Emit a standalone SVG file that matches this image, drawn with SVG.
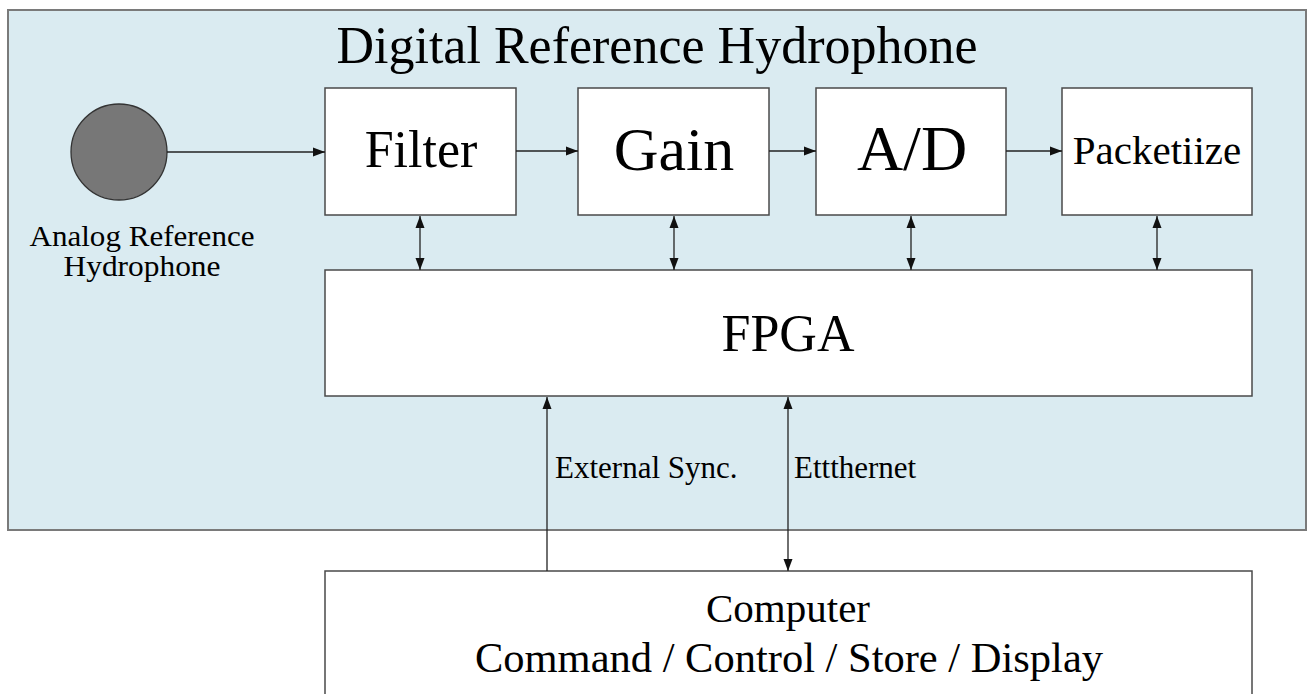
<svg xmlns="http://www.w3.org/2000/svg" width="1308" height="694" viewBox="0 0 1308 694">
<style>
.box{fill:#ffffff;stroke:#4a4a4a;stroke-width:1.5}
.t{font-family:"Liberation Serif","Times New Roman",serif;fill:#000;text-anchor:middle}
.ln{stroke:#222;stroke-width:1.3;fill:none}
</style>
<defs>
<marker id="ah" viewBox="0 0 12 10" refX="12" refY="5" markerWidth="12" markerHeight="10" markerUnits="userSpaceOnUse" orient="auto-start-reverse">
<path d="M0,0.5 L12,5 L0,9.5 Z" fill="#111"/>
</marker>
</defs>
<rect width="1308" height="694" fill="#ffffff"/>
<g id="container">
<rect x="8" y="10" width="1298" height="520" fill="#daebf1" stroke="#7a7a7a" stroke-width="2"/>
<text class="t" x="657" y="63" font-size="52">Digital Reference Hydrophone</text>
</g>
<g id="analog">
<circle cx="119" cy="152" r="48" fill="#777777" stroke="#333" stroke-width="1.3"/>
<text class="t" x="142" y="246" font-size="30" textLength="225" lengthAdjust="spacingAndGlyphs">Analog Reference</text>
<text class="t" x="142" y="276" font-size="30" textLength="157" lengthAdjust="spacingAndGlyphs">Hydrophone</text>
</g>
<g id="filter">
<rect class="box" x="325" y="88" width="191" height="127"/>
<text class="t" x="421" y="167" font-size="52">Filter</text>
</g>
<g id="gain">
<rect class="box" x="578" y="88" width="191" height="127"/>
<text class="t" x="674" y="170" font-size="62">Gain</text>
</g>
<g id="ad">
<rect class="box" x="816" y="88" width="190" height="127"/>
<text class="t" x="912" y="170" font-size="64">A/D</text>
</g>
<g id="packetize">
<rect class="box" x="1062" y="88" width="190" height="127"/>
<text class="t" x="1157" y="164" font-size="41">Packetiize</text>
</g>
<g id="fpga">
<rect class="box" x="325" y="270" width="927" height="126"/>
<text class="t" x="788" y="351" font-size="52">FPGA</text>
</g>
<g id="computer">
<rect class="box" x="325" y="571" width="927" height="140"/>
<text class="t" x="788" y="622" font-size="41">Computer</text>
<text class="t" x="789" y="672" font-size="42.5">Command / Control / Store / Display</text>
</g>
<g id="connectors">
<line class="ln" x1="167" y1="152" x2="325" y2="152" marker-end="url(#ah)"/>
<line class="ln" x1="516" y1="151" x2="578" y2="151" marker-end="url(#ah)"/>
<line class="ln" x1="769" y1="151" x2="816" y2="151" marker-end="url(#ah)"/>
<line class="ln" x1="1006" y1="151" x2="1062" y2="151" marker-end="url(#ah)"/>
<line class="ln" x1="420" y1="216" x2="420" y2="270" marker-start="url(#ah)" marker-end="url(#ah)"/>
<line class="ln" x1="674" y1="216" x2="674" y2="270" marker-start="url(#ah)" marker-end="url(#ah)"/>
<line class="ln" x1="911" y1="216" x2="911" y2="270" marker-start="url(#ah)" marker-end="url(#ah)"/>
<line class="ln" x1="1157" y1="216" x2="1157" y2="270" marker-start="url(#ah)" marker-end="url(#ah)"/>
<line class="ln" x1="547" y1="571" x2="547" y2="397" marker-end="url(#ah)"/>
<line class="ln" x1="788" y1="397" x2="788" y2="571" marker-start="url(#ah)" marker-end="url(#ah)"/>
<text class="t" x="555" y="478" font-size="31" style="text-anchor:start">External Sync.</text>
<text class="t" x="794" y="478" font-size="31" style="text-anchor:start">Ettthernet</text>
</g>
</svg>
